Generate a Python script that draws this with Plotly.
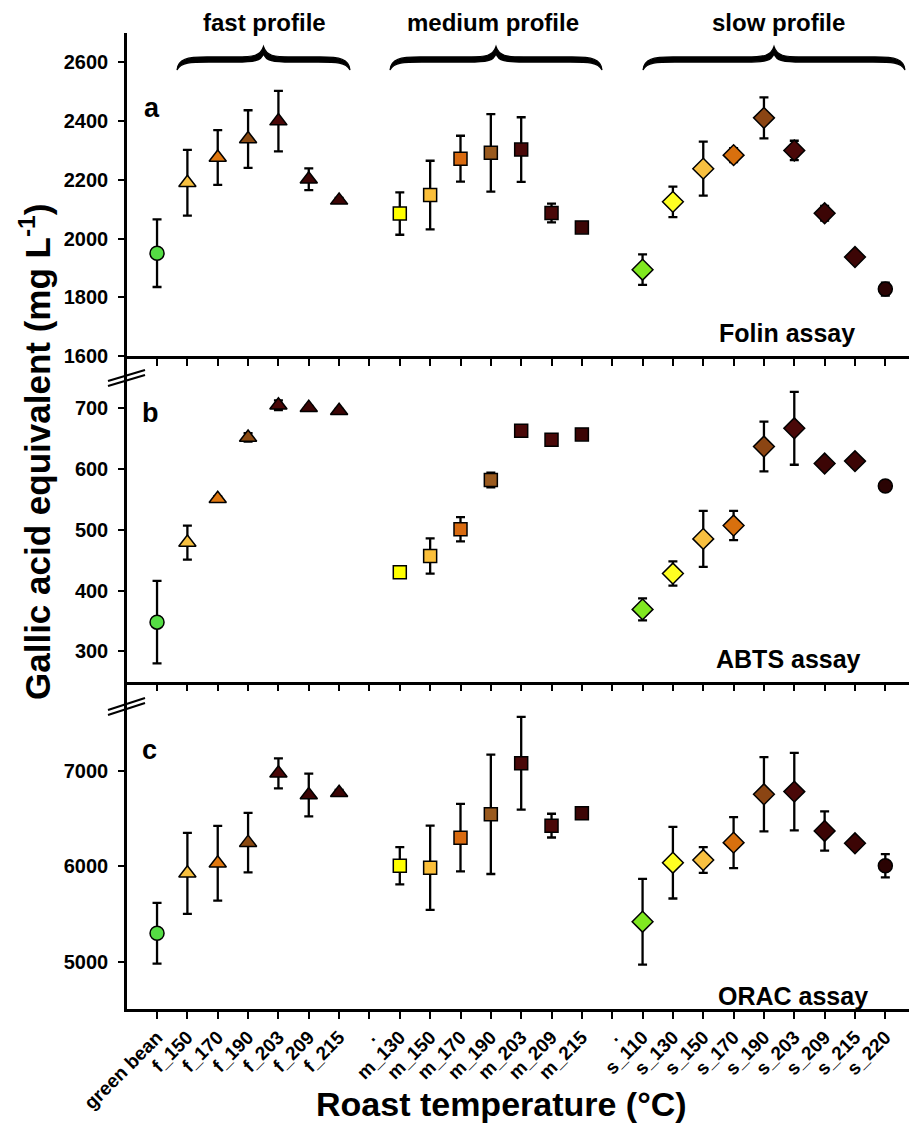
import plotly.graph_objects as go

# ---------------- data ----------------
categories = ["green bean", "f_150", "f_170", "f_190", "f_203", "f_209", "f_215", ".",
              "m_130", "m_150", "m_170", "m_190", "m_203", "m_209", "m_215", ".",
              "s_110", "s_130", "s_150", "s_170", "s_190", "s_203", "s_209", "s_215", "s_220"]

folin = [1950, 2190, 2276, 2339, 2400, 2202, 2130, None,
         2085, 2148, 2272, 2292, 2303, 2087, 2038, None,
         1894, 2125, 2238, 2284, 2411, 2300, 2086, 1937, 1828]
folin_err = [115, 112, 93, 98, 103, 37, 8, 0,
             72, 117, 78, 132, 110, 32, 8, 0,
             52, 52, 92, 24, 70, 33, 25, 17, 22]

abts = [348, 479, 551, 652, 705, 701, 696, None,
        430, 457, 501, 582, 663, 648, 657, None,
        369, 428, 485, 507, 637, 667, 609, 613, 572]
abts_err = [68, 28, 4, 7, 8, 3, 3, 0,
            4, 29, 20, 12, 4, 4, 4, 0,
            18, 20, 46, 24, 41, 60, 4, 4, 4]

orac = [5297, 5928, 6034, 6251, 6981, 6753, 6777, None,
        6008, 5987, 6303, 6549, 7086, 6430, 6560, None,
        5419, 6040, 6068, 6251, 6760, 6788, 6374, 6244, 6008]
orac_err = [319, 426, 394, 314, 158, 225, 30, 0,
            196, 444, 355, 628, 488, 125, 40, 0,
            451, 377, 135, 268, 391, 407, 207, 50, 123]

colors = ["#55DD44",
          "#F7C040", "#E07810", "#8B4A12", "#4A0808", "#3C0505", "#3C0505", "#000000",
          "#FFFF00", "#FBBF3A", "#D86A10", "#9A5A1E", "#4A0808", "#4A0808", "#3C0505", "#000000",
          "#80E820", "#FFFF22", "#F8C040", "#D8700E", "#8B4513", "#4A0808", "#3C0505", "#3C0505", "#2A0303"]

symbols = (["circle"] + ["triangle-up"] * 6 + ["circle"] + ["square"] * 7 + ["circle"]
           + ["diamond"] * 8 + ["circle"])
sizes = ([14] + [15] * 6 + [10] + [13] * 7 + [10] + [16] * 8 + [14])

y_ticks_a = [1600, 1800, 2000, 2200, 2400, 2600]
y_ticks_b = [300, 400, 500, 600, 700]
y_ticks_c = [5000, 6000, 7000]

FONT = "Liberation Sans, Arial, sans-serif"

# ---------------- geometry helpers (pixel -> paper) ----------------
W_FIG, H_FIG = 909, 1133
L, R, T, B = 127, 0, 33, 124
PW = W_FIG - L - R
PH = H_FIG - T - B


def px(x):
    return (x - L) / PW


def py(y):
    return (H_FIG - B - y) / PH


xs = list(range(len(categories)))

fig = go.Figure()
panels = [(folin, folin_err, "x", "y"), (abts, abts_err, "x2", "y2"), (orac, orac_err, "x3", "y3")]
for vals, errs, xa, ya in panels:
    fig.add_trace(go.Scatter(
        x=xs, y=vals, xaxis=xa, yaxis=ya, mode="markers", showlegend=False,
        marker=dict(symbol=symbols, size=sizes, color=colors, opacity=1,
                    line=dict(color="black", width=1.5)),
        error_y=dict(type="data", array=errs, color="black", thickness=2.3, width=4.5),
        cliponaxis=False,
    ))

xr = [-0.99, 24.78]
ax_common = dict(range=xr, showline=True, linecolor="black", linewidth=2.5,
                 ticks="outside", ticklen=7, tickwidth=2, tickcolor="black",
                 tickvals=xs, showgrid=False, zeroline=False, automargin=False)
ay_common = dict(showline=True, linecolor="black", linewidth=2.5, ticks="outside",
                 ticklen=6, tickwidth=2, tickcolor="black", showgrid=False, zeroline=False,
                 tickfont=dict(family=FONT, size=20, color="black", weight="bold"),
                 ticklabelstandoff=6, automargin=False)

d_ab = py(356)
d_bc = py(681.7)

fig.update_layout(
    width=W_FIG, height=H_FIG,
    margin=dict(l=L, r=R, t=T, b=B, autoexpand=False),
    plot_bgcolor="white", paper_bgcolor="white",
    xaxis=dict(domain=[0, 1], anchor="y", showticklabels=False, **ax_common),
    xaxis2=dict(domain=[0, 1], anchor="y2", showticklabels=False, **ax_common),
    xaxis3=dict(domain=[0, 1], anchor="y3", showticklabels=True, ticktext=categories,
                tickangle=-45,
                tickfont=dict(family=FONT, size=19, color="black", weight="bold"),
                **ax_common),
    yaxis=dict(domain=[d_ab, 1], anchor="x", range=[1600, 2700], tickvals=y_ticks_a, **ay_common),
    yaxis2=dict(domain=[d_bc, d_ab], anchor="x2", range=[250, 786], tickvals=y_ticks_b, **ay_common),
    yaxis3=dict(domain=[0, d_bc], anchor="x3", range=[4500, 7945], tickvals=y_ticks_c, **ay_common),
)


def brace_path(x0, x1, yE=70.0, yB=59.5, yP=46.5, h=2.6):
    xm = (x0 + x1) / 2.0

    def P(x, y):
        return f"{px(x):.5f},{py(y):.5f}"

    top = yB - h
    bot = yB + h
    s = "M " + P(x0, yE)
    s += " C " + P(x0 + 1, top + 2) + " " + P(x0 + 10, top) + " " + P(x0 + 30, top)
    s += " L " + P(xm - 28, top)
    s += " C " + P(xm - 10, top) + " " + P(xm - 3, top - 1) + " " + P(xm, yP)
    s += " C " + P(xm + 3, top - 1) + " " + P(xm + 10, top) + " " + P(xm + 28, top)
    s += " L " + P(x1 - 30, top)
    s += " C " + P(x1 - 10, top) + " " + P(x1 - 1, top + 2) + " " + P(x1, yE)
    s += " C " + P(x1 - 4, bot) + " " + P(x1 - 14, bot) + " " + P(x1 - 32, bot)
    s += " L " + P(xm + 28, bot)
    s += " C " + P(xm + 10, bot) + " " + P(xm + 2, bot - 1) + " " + P(xm, yP + 7)
    s += " C " + P(xm - 2, bot - 1) + " " + P(xm - 10, bot) + " " + P(xm - 28, bot)
    s += " L " + P(x0 + 32, bot)
    s += " C " + P(x0 + 14, bot) + " " + P(x0 + 4, bot) + " " + P(x0, yE)
    s += " Z"
    return s


shapes = []
for (b0, b1) in [(177, 350), (390, 602), (643, 905)]:
    shapes.append(dict(type="path", xref="paper", yref="paper", path=brace_path(b0, b1),
                       fillcolor="black", line=dict(color="black", width=1.2), layer="above"))

# axis break marks
for (ya, yb) in [(381, 370), (386, 375), (710, 698), (715, 703)]:
    shapes.append(dict(type="line", xref="paper", yref="paper",
                       x0=px(108), y0=py(ya), x1=px(145), y1=py(yb),
                       line=dict(color="black", width=2.2)))
fig.update_layout(shapes=shapes)

ann = []


def add_text(text, x, y, size, xanchor="center", angle=0):
    ann.append(dict(text=text, xref="paper", yref="paper", x=px(x), y=py(y),
                    xanchor=xanchor, yanchor="middle", showarrow=False, textangle=angle,
                    font=dict(family=FONT, size=size, color="black", weight="bold")))


add_text("fast profile", 264, 23, 24)
add_text("medium profile", 493, 23, 24)
add_text("slow profile", 778, 23, 24)
add_text("a", 152, 108, 27)
add_text("b", 150, 413, 27)
add_text("c", 149, 750, 27)
add_text("Folin assay", 857, 333, 25, xanchor="right")
add_text("ABTS assay", 863, 659, 25, xanchor="right")
add_text("ORAC assay", 870, 996, 25, xanchor="right")
add_text("Gallic acid equivalent (mg L<sup>-1</sup>)", 35, 452, 35, angle=-90)
add_text("Roast temperature (°C)", 501, 1104, 34)
fig.update_layout(annotations=ann)

fig.write_html("out.html", config={"displayModeBar": False},
               post_script="document.body.style.margin='0px';document.body.style.overflow='hidden';")
